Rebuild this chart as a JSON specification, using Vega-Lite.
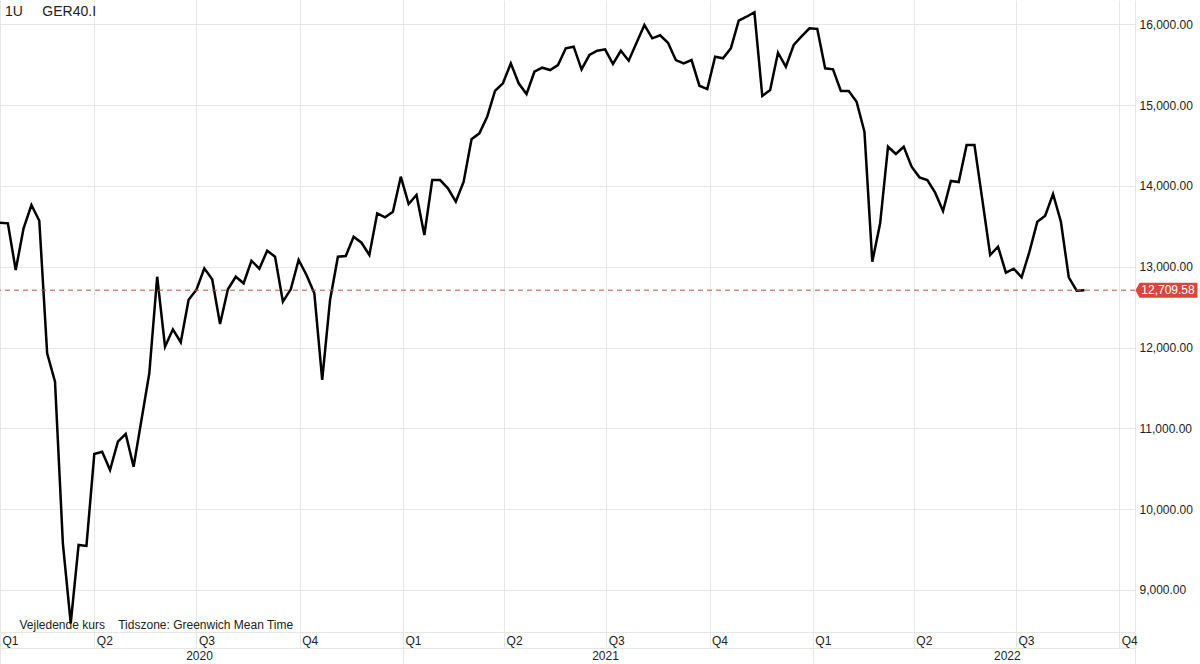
{
  "$schema": "https://vega.github.io/schema/vega-lite/v6.json",
  "width": 1135,
  "height": 632,
  "autosize": {"type": "none"},
  "padding": {"left": 0, "top": 0, "right": 65, "bottom": 32},
  "background": "white",
  "config": {"view": {"stroke": null}, "font": "Liberation Sans"},
  "title": {"text": "1U\u00a0\u00a0\u00a0\u00a0\u00a0GER40.I", "anchor": "start", "frame": "group", "orient": "top", "offset": -13, "baseline": "middle", "dx": 5, "dy": 13, "fontSize": 14, "fontWeight": "normal", "color": "#222", "font": "Liberation Sans"},
  "datasets": {
    "px": [
      {"d": "2020-01-08", "v": 13545}, {"d": "2020-01-15", "v": 13537}, {"d": "2020-01-22", "v": 12959}, {"d": "2020-01-29", "v": 13475},
      {"d": "2020-02-05", "v": 13764}, {"d": "2020-02-12", "v": 13569}, {"d": "2020-02-19", "v": 11928}, {"d": "2020-02-26", "v": 11577},
      {"d": "2020-03-04", "v": 9577}, {"d": "2020-03-11", "v": 8587}, {"d": "2020-03-18", "v": 9556}, {"d": "2020-03-25", "v": 9544},
      {"d": "2020-04-01", "v": 10682}, {"d": "2020-04-08", "v": 10710}, {"d": "2020-04-15", "v": 10484}, {"d": "2020-04-22", "v": 10834},
      {"d": "2020-04-29", "v": 10930}, {"d": "2020-05-06", "v": 10525}, {"d": "2020-05-13", "v": 11103}, {"d": "2020-05-20", "v": 11681},
      {"d": "2020-05-27", "v": 12876}, {"d": "2020-06-03", "v": 12010}, {"d": "2020-06-10", "v": 12225}, {"d": "2020-06-17", "v": 12065},
      {"d": "2020-06-24", "v": 12590}, {"d": "2020-07-01", "v": 12715}, {"d": "2020-07-08", "v": 12980}, {"d": "2020-07-15", "v": 12844},
      {"d": "2020-07-22", "v": 12291}, {"d": "2020-07-29", "v": 12720}, {"d": "2020-08-05", "v": 12876}, {"d": "2020-08-12", "v": 12795},
      {"d": "2020-08-19", "v": 13074}, {"d": "2020-08-26", "v": 12975}, {"d": "2020-09-02", "v": 13198}, {"d": "2020-09-09", "v": 13124},
      {"d": "2020-09-16", "v": 12567}, {"d": "2020-09-23", "v": 12720}, {"d": "2020-09-30", "v": 13083}, {"d": "2020-10-07", "v": 12897},
      {"d": "2020-10-14", "v": 12671}, {"d": "2020-10-21", "v": 11598}, {"d": "2020-10-28", "v": 12588}, {"d": "2020-11-04", "v": 13124},
      {"d": "2020-11-11", "v": 13132}, {"d": "2020-11-18", "v": 13372}, {"d": "2020-11-25", "v": 13297}, {"d": "2020-12-02", "v": 13145},
      {"d": "2020-12-09", "v": 13661}, {"d": "2020-12-16", "v": 13611}, {"d": "2020-12-23", "v": 13681}, {"d": "2020-12-30", "v": 14114},
      {"d": "2021-01-06", "v": 13776}, {"d": "2021-01-13", "v": 13887}, {"d": "2021-01-20", "v": 13392}, {"d": "2021-01-27", "v": 14073},
      {"d": "2021-02-03", "v": 14073}, {"d": "2021-02-10", "v": 13970}, {"d": "2021-02-17", "v": 13805}, {"d": "2021-02-24", "v": 14052},
      {"d": "2021-03-03", "v": 14577}, {"d": "2021-03-10", "v": 14651}, {"d": "2021-03-17", "v": 14857}, {"d": "2021-03-24", "v": 15178},
      {"d": "2021-03-31", "v": 15270}, {"d": "2021-04-07", "v": 15517}, {"d": "2021-04-14", "v": 15270}, {"d": "2021-04-21", "v": 15137},
      {"d": "2021-04-28", "v": 15413}, {"d": "2021-05-05", "v": 15463}, {"d": "2021-05-12", "v": 15434}, {"d": "2021-05-19", "v": 15496},
      {"d": "2021-05-26", "v": 15703}, {"d": "2021-06-02", "v": 15723}, {"d": "2021-06-09", "v": 15443}, {"d": "2021-06-16", "v": 15620},
      {"d": "2021-06-23", "v": 15673}, {"d": "2021-06-30", "v": 15690}, {"d": "2021-07-07", "v": 15509}, {"d": "2021-07-14", "v": 15673},
      {"d": "2021-07-21", "v": 15550}, {"d": "2021-07-28", "v": 15772}, {"d": "2021-08-04", "v": 15991}, {"d": "2021-08-11", "v": 15827},
      {"d": "2021-08-18", "v": 15864}, {"d": "2021-08-25", "v": 15772}, {"d": "2021-09-01", "v": 15558}, {"d": "2021-09-08", "v": 15517},
      {"d": "2021-09-15", "v": 15558}, {"d": "2021-09-22", "v": 15240}, {"d": "2021-09-29", "v": 15199}, {"d": "2021-10-06", "v": 15599},
      {"d": "2021-10-13", "v": 15579}, {"d": "2021-10-20", "v": 15703}, {"d": "2021-10-27", "v": 16045}, {"d": "2021-11-03", "v": 16094},
      {"d": "2021-11-10", "v": 16149}, {"d": "2021-11-17", "v": 15113}, {"d": "2021-11-24", "v": 15187}, {"d": "2021-12-01", "v": 15649},
      {"d": "2021-12-08", "v": 15475}, {"d": "2021-12-15", "v": 15744}, {"d": "2021-12-22", "v": 15850}, {"d": "2021-12-29", "v": 15950},
      {"d": "2022-01-05", "v": 15942}, {"d": "2022-01-12", "v": 15455}, {"d": "2022-01-19", "v": 15443}, {"d": "2022-01-26", "v": 15175},
      {"d": "2022-02-02", "v": 15175}, {"d": "2022-02-09", "v": 15042}, {"d": "2022-02-16", "v": 14671}, {"d": "2022-02-23", "v": 13062},
      {"d": "2022-03-02", "v": 13537}, {"d": "2022-03-09", "v": 14485}, {"d": "2022-03-16", "v": 14395}, {"d": "2022-03-23", "v": 14485},
      {"d": "2022-03-30", "v": 14238}, {"d": "2022-04-06", "v": 14106}, {"d": "2022-04-13", "v": 14073}, {"d": "2022-04-20", "v": 13916},
      {"d": "2022-04-27", "v": 13690}, {"d": "2022-05-04", "v": 14061}, {"d": "2022-05-11", "v": 14048}, {"d": "2022-05-18", "v": 14506},
      {"d": "2022-05-25", "v": 14506}, {"d": "2022-06-01", "v": 13830}, {"d": "2022-06-08", "v": 13145}, {"d": "2022-06-15", "v": 13248},
      {"d": "2022-06-22", "v": 12926}, {"d": "2022-06-29", "v": 12975}, {"d": "2022-07-06", "v": 12869}, {"d": "2022-07-13", "v": 13186},
      {"d": "2022-07-20", "v": 13557}, {"d": "2022-07-27", "v": 13631}, {"d": "2022-08-03", "v": 13900}, {"d": "2022-08-10", "v": 13557},
      {"d": "2022-08-17", "v": 12869}, {"d": "2022-08-24", "v": 12703}, {"d": "2022-08-31", "v": 12709.58}
    ],
    "last": [{"v": 12709.58}]
  },
  "resolve": {"axis": {"x": "independent"}},
  "layer": [
    {
      "data": {"name": "px"},
      "mark": {"type": "line", "color": "#000000", "strokeWidth": 2.5},
      "encoding": {
        "x": {
          "field": "d", "type": "temporal",
          "scale": {"type": "utc", "domain": [1578441600000, 1665792000000], "nice": false},
          "axis": {
            "orient": "bottom",
            "values": [1578441600000, 1585699200000, 1593561600000, 1601510400000, 1609459200000, 1617235200000, 1625097600000, 1633046400000, 1640995200000, 1648771200000, 1656633600000, 1664582400000, 1665792000000],
            "labelExpr": "datum.value >= 1665792000000 ? '' : 'Q' + utcquarter(datum.value)",
            "grid": true, "gridColor": "#e6e6e6", "gridWidth": 1,
            "domain": true, "domainColor": "#e6e6e6",
            "ticks": true, "tickSize": 16, "tickColor": "#e6e6e6",
            "labelAlign": "left", "labelBaseline": "middle", "labelPadding": -7.5, "labelOffset": 2,
            "labelFontSize": 12, "labelColor": "#222222", "labelFlush": false, "labelOverlap": false, "labelFont": "Liberation Sans",
            "title": "Vejledende kurs\u00a0\u00a0\u00a0\u00a0Tidszone: Greenwich Mean Time",
            "titleX": 19, "titleY": -8, "titleAlign": "left", "titleBaseline": "middle", "titleAnchor": "start",
            "titleFontSize": 12, "titleFontWeight": "normal", "titleColor": "#222222", "titleFont": "Liberation Sans"
          }
        },
        "y": {
          "field": "v", "type": "quantitative",
          "scale": {"domain": [8479, 16301], "nice": false, "zero": false},
          "axis": {
            "orient": "right", "title": null,
            "values": [9000, 10000, 11000, 12000, 13000, 14000, 15000, 16000],
            "format": ",.2f", "grid": true, "gridColor": "#e6e6e6", "domain": false, "ticks": false,
            "labelPadding": 4, "labelFontSize": 12, "labelColor": "#222222", "labelFont": "Liberation Sans"
          }
        }
      }
    },
    {
      "data": {"name": "last"},
      "mark": {"type": "rule", "color": "#bf4f4a", "strokeDash": [5, 4], "strokeWidth": 1},
      "encoding": {"y": {"field": "v", "type": "quantitative"}}
    },
    {
      "data": {"name": "last"},
      "mark": {"type": "point", "shape": "M -1 0 L -0.87 -0.242 L 1 -0.242 L 1 0.242 L -0.87 0.242 Z", "size": 3844, "filled": true, "color": "#d9463e", "opacity": 1, "xOffset": 31.5},
      "encoding": {
        "x": {
          "datum": {"year": 2022, "month": 10, "date": 15, "utc": true}, "type": "temporal",
          "axis": {
            "orient": "bottom", "offset": 16, "title": null,
            "values": [1578441600000, 1609459200000, 1640995200000, 1665792000000],
            "labelExpr": "datum.value >= 1665792000000 ? '' : utcFormat(datum.value, '%Y')",
            "labelOffset": {"condition": [{"test": "datum.value < 1600000000000", "value": 199}, {"test": "datum.value < 1630000000000", "value": 202}], "value": 194},
            "grid": false, "domain": true, "domainColor": "#e6e6e6",
            "ticks": true, "tickSize": 16, "tickColor": "#e6e6e6",
            "labelAlign": "center", "labelBaseline": "middle", "labelPadding": -8.5,
            "labelFontSize": 12, "labelColor": "#222222", "labelFlush": false, "labelOverlap": false, "labelFont": "Liberation Sans"
          }
        },
        "y": {"field": "v", "type": "quantitative"}
      }
    },
    {
      "data": {"name": "last"},
      "mark": {"type": "text", "color": "#ffffff", "fontSize": 12, "dx": 33, "align": "center", "baseline": "middle", "font": "Liberation Sans"},
      "encoding": {
        "x": {"datum": {"year": 2022, "month": 10, "date": 15, "utc": true}, "type": "temporal", "axis": null},
        "y": {"field": "v", "type": "quantitative"},
        "text": {"field": "v", "type": "quantitative", "format": ",.2f"}
      }
    }
  ]
}
